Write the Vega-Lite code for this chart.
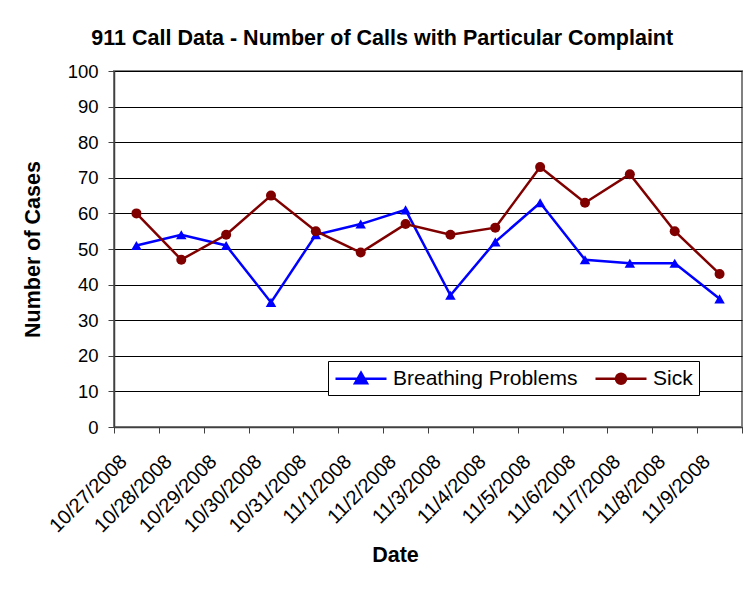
{
  "$schema": "https://vega.github.io/schema/vega-lite/v6.json",
  "autosize": "none",
  "width": 628,
  "height": 356,
  "padding": {"left": 114, "top": 71, "right": 3, "bottom": 169},
  "background": "white",
  "title": {
    "text": "911 Call Data - Number of Calls with Particular Complaint",
    "font": "Liberation Sans",
    "fontSize": 21.5,
    "fontWeight": "bold",
    "color": "black",
    "anchor": "middle",
    "frame": "bounds",
    "offset": 13
  },
  "config": {
    "font": "Liberation Sans",
    "view": {"stroke": "#808080", "strokeWidth": 2},
    "axis": {
      "labelFont": "Liberation Sans",
      "titleFont": "Liberation Sans",
      "labelColor": "black",
      "titleColor": "black",
      "domainColor": "#404040",
      "domainWidth": 1.5,
      "tickColor": "#404040",
      "tickSize": 6,
      "tickWidth": 1
    }
  },
  "data": {
    "values": [
      {"date": "10/27/2008", "series": "Breathing Problems", "value": 51},
      {"date": "10/28/2008", "series": "Breathing Problems", "value": 54},
      {"date": "10/29/2008", "series": "Breathing Problems", "value": 51},
      {"date": "10/30/2008", "series": "Breathing Problems", "value": 35},
      {"date": "10/31/2008", "series": "Breathing Problems", "value": 54},
      {"date": "11/1/2008", "series": "Breathing Problems", "value": 57},
      {"date": "11/2/2008", "series": "Breathing Problems", "value": 61},
      {"date": "11/3/2008", "series": "Breathing Problems", "value": 37},
      {"date": "11/4/2008", "series": "Breathing Problems", "value": 52},
      {"date": "11/5/2008", "series": "Breathing Problems", "value": 63},
      {"date": "11/6/2008", "series": "Breathing Problems", "value": 47},
      {"date": "11/7/2008", "series": "Breathing Problems", "value": 46},
      {"date": "11/8/2008", "series": "Breathing Problems", "value": 46},
      {"date": "11/9/2008", "series": "Breathing Problems", "value": 36},
      {"date": "10/27/2008", "series": "Sick", "value": 60},
      {"date": "10/28/2008", "series": "Sick", "value": 47},
      {"date": "10/29/2008", "series": "Sick", "value": 54},
      {"date": "10/30/2008", "series": "Sick", "value": 65},
      {"date": "10/31/2008", "series": "Sick", "value": 55},
      {"date": "11/1/2008", "series": "Sick", "value": 49},
      {"date": "11/2/2008", "series": "Sick", "value": 57},
      {"date": "11/3/2008", "series": "Sick", "value": 54},
      {"date": "11/4/2008", "series": "Sick", "value": 56},
      {"date": "11/5/2008", "series": "Sick", "value": 73},
      {"date": "11/6/2008", "series": "Sick", "value": 63},
      {"date": "11/7/2008", "series": "Sick", "value": 71},
      {"date": "11/8/2008", "series": "Sick", "value": 55},
      {"date": "11/9/2008", "series": "Sick", "value": 43}
    ]
  },
  "encoding": {
    "x": {
      "field": "date",
      "type": "ordinal",
      "sort": null,
      "scale": {"paddingInner": 0, "paddingOuter": 0},
      "axis": {
        "title": "Date",
        "titleFontSize": 21.5,
        "titleFontWeight": "bold",
        "titleX": 281,
        "titleY": 128,
        "titleBaseline": "middle",
        "labelAngle": -45,
        "labelAlign": "right",
        "labelBaseline": "top",
        "labelFontSize": 20,
        "labelPadding": 18,
        "labelOffset": -20,
        "tickBand": "extent",
        "grid": false
      }
    },
    "y": {
      "field": "value",
      "type": "quantitative",
      "scale": {"domain": [0, 100], "nice": false},
      "axis": {
        "title": "Number of Cases",
        "titleFontSize": 21.5,
        "titleFontWeight": "bold",
        "titleX": -81,
        "titleY": 178,
        "titleBaseline": "middle",
        "values": [0, 10, 20, 30, 40, 50, 60, 70, 80, 90, 100],
        "labelFontSize": 18.5,
        "labelPadding": 10,
        "grid": true,
        "gridColor": "black",
        "gridWidth": 1,
        "gridOpacity": 1
      }
    },
    "color": {
      "field": "series",
      "type": "nominal",
      "scale": {"domain": ["Breathing Problems", "Sick"], "range": ["#0000FF", "#800000"]},
      "legend": {
        "title": null,
        "orient": "none",
        "legendX": 214,
        "legendY": 290,
        "direction": "horizontal",
        "strokeColor": "black",
        "fillColor": "white",
        "padding": 6,
        "labelFont": "Liberation Sans",
        "labelFontSize": 21,
        "labelColor": "black",
        "labelLimit": 400,
        "labelOffset": 36,
        "columnPadding": 12,
        "symbolSize": 400,
        "symbolStrokeWidth": 2.5,
        "encode": {
          "symbols": {
            "update": {
              "shape": {"signal": "datum.value === 'Sick' ? 'M-1,0H4.1M1.05,0A0.5,0.5 0 1,0 2.05,0A0.5,0.5 0 1,0 1.05,0Z' : 'M-1,0H4.1M0.95,0.45L1.55,-0.6L2.15,0.45Z'"},
              "fill": {"signal": "datum.value === 'Sick' ? '#800000' : '#0000FF'"},
              "stroke": {"signal": "datum.value === 'Sick' ? '#800000' : '#0000FF'"},
              "strokeWidth": {"value": 2.5},
              "opacity": {"value": 1},
              "fillOpacity": {"value": 1}
            }
          }
        }
      }
    }
  },
  "layer": [
    {
      "mark": {"type": "line", "strokeWidth": 2.5}
    },
    {
      "transform": [{"filter": "datum.series === 'Breathing Problems'"}],
      "mark": {"type": "point", "filled": true, "opacity": 1, "size": 110, "shape": "triangle-up"}
    },
    {
      "transform": [{"filter": "datum.series === 'Sick'"}],
      "mark": {"type": "point", "filled": true, "opacity": 1, "size": 100, "shape": "circle"}
    }
  ]
}
